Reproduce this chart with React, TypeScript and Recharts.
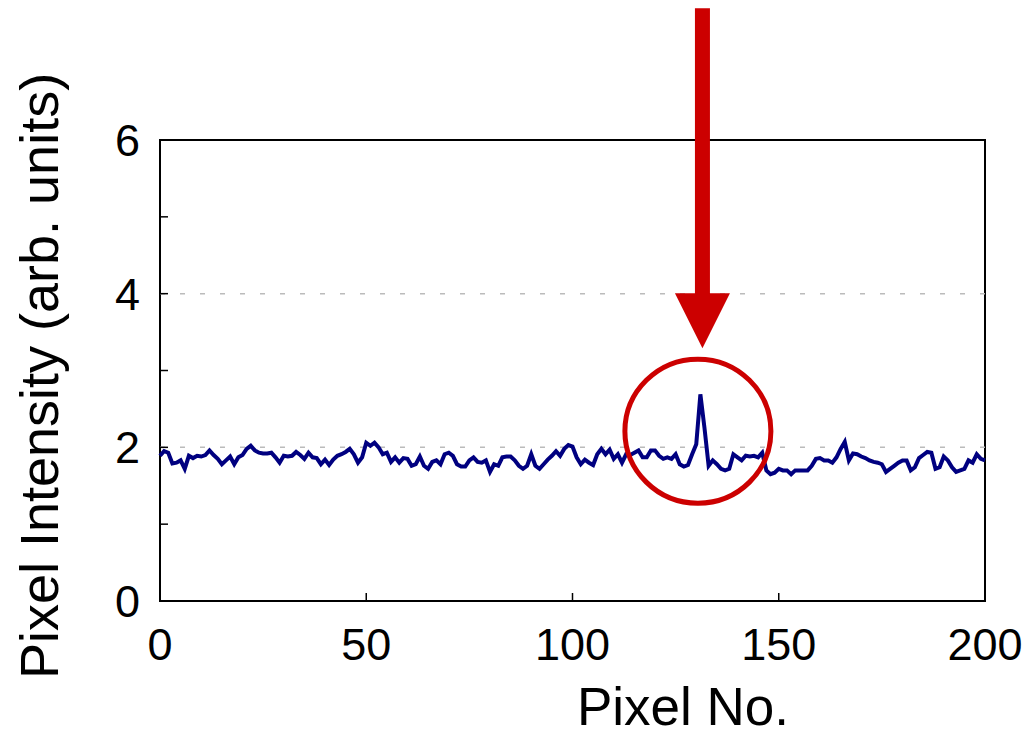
import React from 'react'
import { LineChart, Line, XAxis, YAxis, ReferenceLine, ReferenceArea, ReferenceDot } from 'recharts'

// intensity per pixel, pixel no. = index (0..200)
const INTENSITY = [
  1.89, 1.95, 1.93, 1.79, 1.8, 1.83, 1.72, 1.89, 1.86, 1.89,
  1.88, 1.9, 1.96, 1.9, 1.85, 1.78, 1.83, 1.88, 1.78, 1.87,
  1.9, 1.98, 2.02, 1.96, 1.93, 1.92, 1.92, 1.93, 1.87, 1.8,
  1.89, 1.88, 1.89, 1.94, 1.9, 1.85, 1.93, 1.87, 1.86, 1.78,
  1.84, 1.77, 1.84, 1.89, 1.91, 1.94, 1.98, 1.91, 1.8, 1.87,
  2.06, 2.02, 2.06, 2.0, 1.91, 1.93, 1.81, 1.87, 1.8, 1.86,
  1.85, 1.76, 1.78, 1.88, 1.76, 1.72, 1.81, 1.83, 1.78, 1.91,
  1.93, 1.89, 1.78, 1.75, 1.75, 1.83, 1.87, 1.81, 1.8, 1.83,
  1.68, 1.78, 1.76, 1.87, 1.88, 1.88, 1.83, 1.76, 1.72, 1.76,
  1.91, 1.76, 1.72, 1.78, 1.84, 1.89, 1.95, 1.89, 1.98, 2.03,
  2.01, 1.87, 1.78, 1.84, 1.8, 1.77, 1.91, 1.98, 1.91, 1.97,
  1.85, 1.91, 1.8, 1.91, 1.9, 1.93, 1.96, 1.87, 1.87, 1.96,
  1.96, 1.89, 1.85, 1.87, 1.85, 1.91, 1.78, 1.75, 1.77, 1.91,
  2.04, 2.69, 2.25, 1.76, 1.83, 1.78, 1.72, 1.7, 1.72, 1.91,
  1.87, 1.83, 1.89, 1.88, 1.89, 1.87, 1.93, 1.7, 1.65, 1.67,
  1.72, 1.7, 1.7, 1.65, 1.7, 1.7, 1.7, 1.7, 1.76, 1.85,
  1.86, 1.83, 1.83, 1.8, 1.87, 1.98, 2.07, 1.83, 1.92, 1.91,
  1.88, 1.86, 1.83, 1.81, 1.8, 1.78, 1.68, 1.72, 1.76, 1.8,
  1.83, 1.83, 1.7, 1.74, 1.86, 1.9, 1.94, 1.93, 1.72, 1.74,
  1.88, 1.83, 1.74, 1.68, 1.7, 1.72, 1.83, 1.8, 1.91, 1.85,
  1.83,
]

const X_TICKS = [0, 50, 100, 150, 200]
const Y_TICKS = [0, 1, 2, 3, 4, 5, 6]
const Y_LABELED = [0, 2, 4, 6]
const GRID_LEVELS = [2, 4]

// annotation anchors (data coords)
const SPIKE_X = 130.4
const SPIKE_Y = 2.21
const ARROW_X = 131.5
const ARROW_TIP_Y = 3.29

const FONT = '"Liberation Sans", Arial, sans-serif'
const RED = '#cc0000'
const NAVY = '#000080'

const data = INTENSITY.map((v, i) => ({ pixel: i, value: v }))

function YTick(props: any) {
  const { x, y, payload } = props
  const v = payload.value
  return (
    <g>
      {v > 0 && v < 6 && <line x1={x} x2={x + 8} y1={y} y2={y} stroke="#000" strokeWidth={1.5} />}
      {Y_LABELED.includes(v) && (
        <text x={x - 20} y={y} dy={16} textAnchor="end" fontSize={45} fontFamily={FONT} fill="#000">
          {v}
        </text>
      )}
    </g>
  )
}

function XTick(props: any) {
  const { x, y, payload } = props
  const v = payload.value
  return (
    <g>
      {v > 0 && v < 200 && <line x1={x} x2={x} y1={y} y2={y - 8} stroke="#000" strokeWidth={1.5} />}
      <text x={x} y={y + 59} textAnchor="middle" fontSize={45} fontFamily={FONT} fill="#000">
        {v}
      </text>
    </g>
  )
}

function SpikeCircle(props: any) {
  const { cx, cy } = props
  return <ellipse cx={cx} cy={cy} rx={73} ry={72} fill="none" stroke={RED} strokeWidth={5} />
}

function DownArrow(props: any) {
  const { cx, cy } = props
  const pts = [
    [cx, cy],
    [cx - 27.5, cy - 55],
    [cx - 7.5, cy - 55],
    [cx - 7.5, cy - 340],
    [cx + 7.5, cy - 340],
    [cx + 7.5, cy - 55],
    [cx + 27.5, cy - 55],
  ]
  return <polygon points={pts.map((p) => p.join(',')).join(' ')} fill={RED} />
}

export default function App() {
  return (
    <div style={{ position: 'absolute', left: 0, top: 0, background: '#fff' }}>
      <LineChart width={1035} height={736} data={data} margin={{ top: 140, right: 50, bottom: 0, left: 0 }}>
        <XAxis
          dataKey="pixel"
          type="number"
          domain={[0, 200]}
          ticks={X_TICKS}
          tick={<XTick />}
          tickLine={false}
          axisLine={false}
          tickSize={0}
          tickMargin={0}
          height={135}
          label={() => (
            <text x={683} y={725} textAnchor="middle" fontSize={53} fontFamily={FONT} fill="#000">
              Pixel No.
            </text>
          )}
        />
        <YAxis
          type="number"
          domain={[0, 6]}
          ticks={Y_TICKS}
          tick={<YTick />}
          tickLine={false}
          axisLine={false}
          tickSize={0}
          tickMargin={0}
          width={160}
          label={() => (
            <text
              x={58}
              y={376}
              transform="rotate(-90 58 376)"
              textAnchor="middle"
              fontSize={54}
              fontFamily={FONT}
              fill="#000"
            >
              Pixel Intensity (arb. units)
            </text>
          )}
        />
        {GRID_LEVELS.map((g) => (
          <ReferenceLine key={g} y={g} stroke="#bbbbbb" strokeWidth={1.5} strokeDasharray="5 15" />
        ))}
        <Line
          type="linear"
          dataKey="value"
          stroke={NAVY}
          strokeWidth={4}
          dot={false}
          isAnimationActive={false}
        />
        <ReferenceArea x1={0} x2={200} y1={0} y2={6} fill="none" stroke="#000" strokeWidth={2} ifOverflow="visible" />
        <ReferenceDot x={SPIKE_X} y={SPIKE_Y} ifOverflow="visible" shape={<SpikeCircle />} />
        <ReferenceDot x={ARROW_X} y={ARROW_TIP_Y} ifOverflow="visible" shape={<DownArrow />} />
      </LineChart>
    </div>
  )
}
